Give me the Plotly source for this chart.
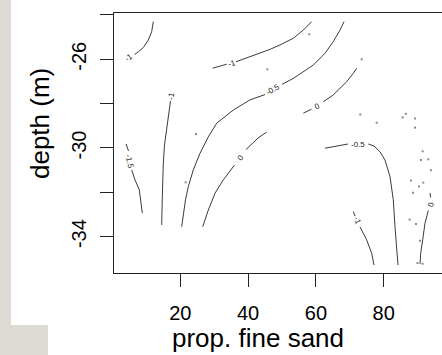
import plotly.graph_objects as go

# ---------------- data ----------------
# contour level -1, top-left
c1a_x = [12.04, 11.56, 10.56, 9.09, 7.61, 6.49]
c1a_y = [-24.30, -24.75, -25.13, -25.47, -25.66, -25.78]
# contour level -1, top-middle (two pieces around the label)
c1b_x = [29.56, 33.69]
c1b_y = [-26.40, -26.22]
c1c_x = [36.43, 40.56, 43.51, 46.46, 49.41, 53.33, 56.28, 58.76]
c1c_y = [-26.11, -25.88, -25.73, -25.55, -25.35, -25.05, -24.68, -24.30]
# contour level -1, left vertical
c1d_x = [17.11, 16.52, 15.78, 15.34, 14.99, 14.75, 14.69, 14.51]
c1d_y = [-27.88, -28.51, -29.19, -29.86, -30.68, -31.44, -32.20, -33.47]
# contour level -1.5
c15a_x = [3.98, 4.72]
c15a_y = [-29.82, -30.13]
c15b_x = [5.66, 6.64, 7.91, 8.32, 8.79]
c15b_y = [-30.99, -31.44, -31.89, -32.49, -32.94]
# contour level -0.5, big curve
c05a_x = [68.29, 67.11, 65.13, 62.68, 59.23, 56.28, 53.33, 50.00]
c05a_y = [-24.30, -24.68, -25.20, -25.73, -26.26, -26.56, -26.86, -27.13]
c05b_x = [44.99, 40.56, 35.63, 30.74, 28.26, 25.81, 23.83, 22.36, 21.53, 20.41]
c05b_y = [-27.59, -27.83, -28.29, -28.88, -29.50, -30.24, -30.99, -31.74, -32.34, -33.55]
# contour level 0, middle
c0a_x = [45.49, 42.92, 39.38]
c0a_y = [-29.28, -29.55, -30.07]
c0b_x = [35.99, 32.68, 30.24, 28.26, 26.61]
c0b_y = [-30.77, -31.44, -32.04, -32.80, -33.55]
# contour level 0, upper right
c0c_x = [56.28, 58.70]
c0c_y = [-28.43, -28.25]
c0d_x = [62.18, 65.13, 66.61, 69.09, 71.03, 72.04]
c0d_y = [-27.91, -27.61, -27.38, -27.01, -26.63, -26.40]
# contour level -0.5, right
c05c_x = [62.68, 65.93, 69.47]
c05c_y = [-30.01, -29.91, -29.82]
c05d_x = [75.46, 77.14, 78.91, 80.38, 81.86, 82.83, 83.33, 83.83, 84.22]
c05d_y = [-29.82, -29.91, -30.17, -30.54, -31.29, -32.34, -33.55, -34.60, -35.28]
# contour level -1, lower right
c1e_x = [71.03, 71.53]
c1e_y = [-32.87, -33.07]
c1f_x = [73.01, 74.99, 76.46, 77.14]
c1f_y = [-33.56, -34.15, -34.75, -35.28]
# contour level 0, far right
c0e_x = [93.66, 93.86]
c0e_y = [-32.03, -32.23]
c0f_x = [93.16, 92.18, 91.50, 90.91, 90.71]
c0f_y = [-32.82, -33.40, -34.15, -34.75, -35.23]

segments = [
    (c1a_x, c1a_y), (c1b_x, c1b_y), (c1c_x, c1c_y), (c1d_x, c1d_y),
    (c15a_x, c15a_y), (c15b_x, c15b_y), (c05a_x, c05a_y), (c05b_x, c05b_y),
    (c0a_x, c0a_y), (c0b_x, c0b_y), (c0c_x, c0c_y), (c0d_x, c0d_y),
    (c05c_x, c05c_y), (c05d_x, c05d_y), (c1e_x, c1e_y), (c1f_x, c1f_y),
    (c0e_x, c0e_y), (c0f_x, c0f_y),
]

# contour labels
label_text = ["-1", "-1", "-1", "-1.5", "-0.5", "0", "0", "-0.5", "-1", "0"]
label_x = [4.87, 35.16, 17.40, 5.10, 47.43, 37.85, 60.41, 72.51, 72.12, 93.86]
label_y = [-25.92, -26.18, -27.63, -30.59, -27.38, -30.42, -28.14, -29.84, -33.29, -32.53]
label_angle = [-35, -16, -82, 77, -30, -50, -27, 0, 68, -82]

# observation points
pts_x = [45.66, 58.05, 73.51, 24.63, 21.59, 73.10, 77.94, 86.52, 85.60, 89.23,
         89.23, 91.50, 91.00, 93.16, 93.95, 88.05, 91.68, 90.41, 88.64, 87.67,
         89.53, 90.71, 89.97, 91.45]
pts_y = [-26.45, -24.87, -26.00, -29.37, -31.55, -28.49, -28.86, -28.46, -28.62, -28.67,
         -29.08, -30.15, -30.54, -30.51, -31.00, -31.47, -31.56, -31.74, -32.02, -33.23,
         -33.43, -34.19, -35.19, -35.22]

x_ticks = [20, 40, 60, 80]
y_ticks = [-24, -26, -28, -30, -32, -34]
y_ticktext = ["", "-26", "", "-30", "", "-34"]

# ---------------- figure ----------------
FONT = "Liberation Sans, Arial, sans-serif"
fig = go.Figure()
for sx, sy in segments:
    fig.add_trace(go.Scatter(x=sx, y=sy, mode="lines",
                             line=dict(color="#3a3a3a", width=1),
                             hoverinfo="skip", showlegend=False))
fig.add_trace(go.Scatter(x=pts_x, y=pts_y, mode="markers",
                         marker=dict(symbol="square", size=2, color="#8a8a8a",
                                     line=dict(width=0)),
                         showlegend=False))

for t, lx, ly, a in zip(label_text, label_x, label_y, label_angle):
    fig.add_annotation(x=lx, y=ly, text=t, textangle=a, showarrow=False,
                       font=dict(family=FONT, size=8, color="#222"))

# axis titles
fig.add_annotation(xref="paper", yref="paper", x=-0.2256, y=0.573,
                   text="depth (m)", textangle=-90, showarrow=False,
                   xanchor="center", yanchor="middle",
                   font=dict(family=FONT, size=26, color="black"))
fig.add_annotation(xref="paper", yref="paper", x=0.44, y=-0.313,
                   text="prop. fine sand", showarrow=False,
                   xanchor="center", yanchor="bottom", borderpad=0,
                   font=dict(family=FONT, size=26, color="black"))

# grey side panels
fig.add_shape(type="rect", xref="paper", yref="paper", x0=-0.3476, x1=-0.314,
              y0=-0.2, y1=1.06, fillcolor="#dcdad2", line=dict(width=0), layer="below")
fig.add_shape(type="rect", xref="paper", yref="paper", x0=-0.3476, x1=-0.2012,
              y0=-0.32, y1=-0.2, fillcolor="#dcdad2", line=dict(width=0), layer="below")

fig.update_xaxes(range=[0.44, 97.2], tickvals=x_ticks, ticks="outside", ticklen=13,
                 tickcolor="#222", showline=True, mirror=True, linecolor="#222",
                 linewidth=1, showgrid=False, zeroline=False,
                 tickfont=dict(family=FONT, size=20, color="black"),
                 ticklabelstandoff=9)
fig.update_yaxes(range=[-35.64, -23.91], tickvals=y_ticks, ticktext=y_ticktext,
                 ticks="outside", ticklen=13, tickcolor="#222", tickangle=-90,
                 showline=True, mirror=False, linecolor="#222", linewidth=1,
                 showgrid=False, zeroline=False,
                 tickfont=dict(family=FONT, size=20, color="black"),
                 ticklabelstandoff=6)

fig.update_layout(width=442, height=355,
                  margin=dict(l=114, r=0, t=13, b=82),
                  paper_bgcolor="white", plot_bgcolor="white")
fig.write_html("out.html", config={"displayModeBar": False},
               post_script="document.body.style.margin='0';document.body.style.overflow='hidden';")
